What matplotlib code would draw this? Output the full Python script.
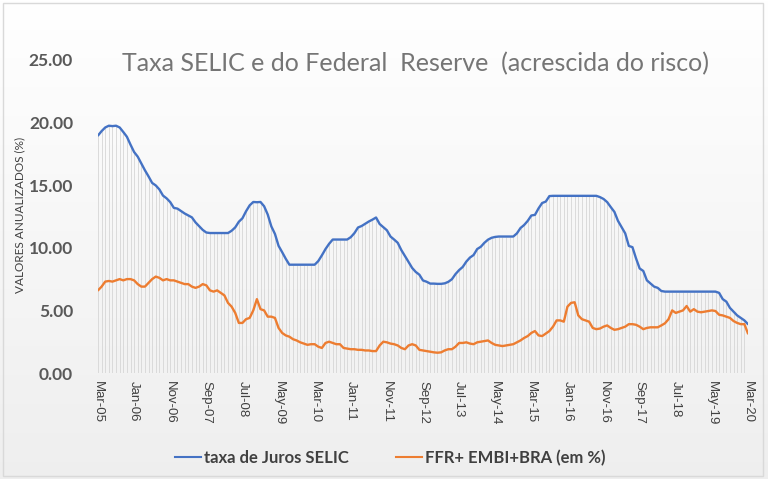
import numpy as np
import matplotlib
matplotlib.use("Agg")
import matplotlib.pyplot as plt
from matplotlib.patches import Rectangle
from matplotlib.lines import Line2D

# ---- data -------------------------------------------------------------
months = ["Mar", "Apr", "May", "Jun", "Jul", "Aug", "Sep", "Oct", "Nov", "Dec"]
all_months = ["Jan", "Feb", "Mar", "Apr", "May", "Jun", "Jul", "Aug", "Sep", "Oct", "Nov", "Dec"]

selic = [
    # 2005 (Mar-Dec)
    18.97, 19.32, 19.61, 19.75, 19.72, 19.75, 19.61, 19.25, 18.87, 18.24,
    # 2006
    17.65, 17.28, 16.74, 16.19, 15.70, 15.18, 14.98, 14.66, 14.17, 13.95, 13.65, 13.19,
    # 2007
    13.13, 12.93, 12.74, 12.58, 12.43, 12.03, 11.73, 11.43, 11.22, 11.18, 11.18, 11.18,
    # 2008
    11.18, 11.18, 11.18, 11.36, 11.63, 12.08, 12.36, 12.92, 13.39, 13.66, 13.64, 13.66,
    # 2009
    13.32, 12.66, 11.71, 11.11, 10.16, 9.65, 9.12, 8.65, 8.65, 8.65, 8.65, 8.65,
    # 2010
    8.65, 8.65, 8.65, 8.94, 9.40, 9.90, 10.32, 10.66, 10.66, 10.66, 10.66, 10.66,
    # 2011
    10.85, 11.17, 11.62, 11.74, 11.92, 12.10, 12.25, 12.42, 11.90, 11.65, 11.40, 10.90,
    # 2012
    10.66, 10.40, 9.82, 9.35, 8.87, 8.39, 8.07, 7.85, 7.39, 7.29, 7.14, 7.14,
    # 2013
    7.12, 7.12, 7.16, 7.28, 7.49, 7.90, 8.22, 8.47, 8.90, 9.22, 9.42, 9.90,
    # 2014
    10.08, 10.40, 10.65, 10.80, 10.87, 10.90, 10.90, 10.90, 10.90, 10.90, 11.15, 11.58,
    # 2015
    11.82, 12.15, 12.58, 12.63, 13.15, 13.58, 13.69, 14.13, 14.15, 14.15, 14.15, 14.15,
    # 2016
    14.15, 14.15, 14.15, 14.15, 14.15, 14.15, 14.15, 14.15, 14.15, 14.05, 13.90, 13.65,
    # 2017
    13.25, 12.87, 12.15, 11.65, 11.15, 10.15, 10.05, 9.15, 8.35, 8.15, 7.40, 7.15,
    # 2018
    6.90, 6.80, 6.55, 6.50, 6.50, 6.50, 6.50, 6.50, 6.50, 6.50, 6.50, 6.50,
    # 2019
    6.50, 6.50, 6.50, 6.50, 6.50, 6.50, 6.40, 5.90, 5.70, 5.20, 4.90, 4.60,
    # 2020 (Jan-Mar)
    4.40, 4.20, 3.90,
]

ffr_embi = [
    # 2005
    6.6, 6.9, 7.3, 7.35, 7.3, 7.4, 7.5, 7.4, 7.5, 7.5,
    # 2006
    7.4, 7.1, 6.9, 6.9, 7.2, 7.5, 7.7, 7.6, 7.4, 7.5, 7.4, 7.4,
    # 2007
    7.3, 7.2, 7.1, 7.1, 6.9, 6.8, 6.9, 7.1, 7.0, 6.6, 6.5, 6.6,
    # 2008
    6.4, 6.2, 5.6, 5.3, 4.8, 4.0, 4.0, 4.3, 4.4, 5.0, 5.9, 5.1,
    # 2009
    5.0, 4.5, 4.5, 4.4, 3.6, 3.2, 3.0, 2.9, 2.7, 2.6, 2.45, 2.35,
    # 2010
    2.25, 2.3, 2.3, 2.1, 2.0, 2.4, 2.5, 2.4, 2.3, 2.3, 2.0, 1.95,
    # 2011
    1.9, 1.9, 1.85, 1.85, 1.8, 1.8, 1.75, 1.75, 2.2, 2.5, 2.45, 2.35,
    # 2012
    2.3, 2.2, 2.0, 1.9, 2.2, 2.3, 2.2, 1.85, 1.8, 1.75, 1.7, 1.65,
    # 2013
    1.62, 1.65, 1.8, 1.9, 1.9, 2.1, 2.4, 2.4, 2.45, 2.35, 2.3, 2.45,
    # 2014
    2.5, 2.55, 2.6, 2.4, 2.25, 2.2, 2.15, 2.2, 2.25, 2.3, 2.45, 2.6,
    # 2015
    2.8, 2.95, 3.2, 3.35, 3.0, 2.95, 3.15, 3.35, 3.7, 4.2, 4.2, 4.1,
    # 2016
    5.3, 5.6, 5.65, 4.6, 4.3, 4.2, 4.1, 3.6, 3.5, 3.55, 3.7, 3.8,
    # 2017
    3.6, 3.45, 3.5, 3.6, 3.7, 3.9, 3.9, 3.85, 3.7, 3.5, 3.6, 3.65,
    # 2018
    3.65, 3.65, 3.8, 3.97, 4.3, 5.0, 4.8, 4.9, 5.0, 5.35, 4.9, 5.1,
    # 2019
    4.9, 4.85, 4.9, 4.95, 5.0, 4.95, 4.65, 4.6, 4.5, 4.4, 4.15, 4.0,
    # 2020
    3.9, 3.9, 3.15,
]

# month labels Mar-05 .. Mar-20
labels = [f"{m}-05" for m in months]
for yr in range(6, 20):
    labels += [f"{m}-{yr:02d}" for m in all_months]
labels += [f"{m}-20" for m in ["Jan", "Feb", "Mar"]]

yticks = [0, 5, 10, 15, 20, 25]
title = "Taxa SELIC e do Federal  Reserve  (acrescida do risco)"
ylabel = "VALORES ANUALIZADOS (%)"
series_names = ["taxa de Juros SELIC", "FFR+ EMBI+BRA (em %)"]

# ---- figure -----------------------------------------------------------
W, H = 768, 479
fig = plt.figure(figsize=(W / 100, H / 100), dpi=100)

# background gradient
bg = fig.add_axes([0, 0, 1, 1], zorder=-10)
grad = np.linspace(0, 1, 256).reshape(-1, 1)
top_c = np.array([1.0, 1.0, 1.0])
bot_c = np.array([0.935, 0.935, 0.935])
img = top_c[None, None, :] * (1 - grad[..., None]) + bot_c[None, None, :] * grad[..., None]
img = np.clip(img, 0, 1)
bg.imshow(img, aspect="auto", extent=[0, 1, 0, 1], origin="upper")
bg.add_patch(Rectangle((0.004, 0.006), 0.99, 0.988, fill=False,
                       edgecolor="#d9d9d9", lw=1.0, transform=bg.transAxes))
bg.set_xlim(0, 1)
bg.set_ylim(0, 1)
bg.axis("off")

left, right = 98 / W, 748 / W
bottom, top = 1 - 373 / H, 1 - 60 / H
ax = fig.add_axes([left, bottom, right - left, top - bottom])
ax.patch.set_alpha(0)

x = np.arange(len(selic))
upper = np.maximum(np.array(selic), np.array(ffr_embi))
ax.vlines(x, 0, upper, colors="#d6d6d6", lw=0.6, zorder=1)

ax.plot(x, selic, color="#4472C4", lw=1.7, zorder=3, solid_capstyle="round")
ax.plot(x, ffr_embi, color="#ED7D31", lw=1.7, zorder=3, solid_capstyle="round")

ax.set_xlim(0, len(selic) - 1)
ax.set_ylim(0, 25)
ax.set_yticks(yticks)
ax.set_yticklabels([f"{v:.2f}" for v in yticks], fontsize=12.5,
                   fontweight="bold", color="#595959", family="Lato")
tick_idx = list(range(0, len(selic), 10))
ax.set_xticks(tick_idx)
ax.set_xticklabels([labels[i] for i in tick_idx], rotation=270,
                   fontsize=9.5, color="#404040", family="Liberation Sans")
ax.tick_params(axis="both", length=0)
ax.tick_params(axis="y", pad=18)
ax.tick_params(axis="x", pad=6)
for s in ax.spines.values():
    s.set_visible(False)

fig.text(20 / W, 1 - 215 / H, ylabel, rotation=90, ha="center", va="center",
         fontsize=8.5, color="#404040", family="Lato")
fig.text(416 / W, 1 - 64 / H, title, ha="center", va="center",
         fontsize=18, color="#757575", family="Lato")

handles = [Line2D([], [], color="#4472C4", lw=1.5),
           Line2D([], [], color="#ED7D31", lw=1.5)]
fig.legend(handles, series_names, loc="center", bbox_to_anchor=(390 / W, 1 - 458 / H),
           ncol=2, frameon=False, handlelength=1.6, handletextpad=0.15,
           columnspacing=2.8,
           prop={"family": "Lato", "size": 12, "weight": "bold"},
           labelcolor="#404040")

fig.savefig("out.png", dpi=100)
